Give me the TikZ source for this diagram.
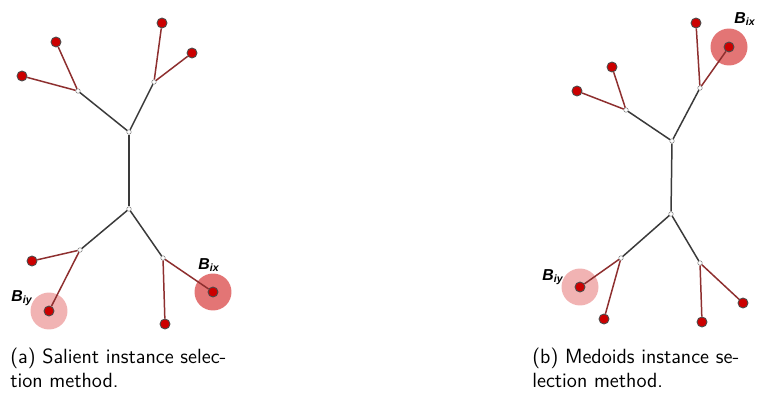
\documentclass[tikz,border=0pt]{standalone}
\usepackage{fontspec}
\newfontfamily\lblfont{Liberation Sans}
\definecolor{leafred}{HTML}{CC0000}
\definecolor{branchred}{HTML}{8E2F2F}
\definecolor{trunkgray}{HTML}{3A3A3A}
\definecolor{haloA}{HTML}{E37575}
\definecolor{haloB}{HTML}{F1B3B3}
\tikzset{
  leaf/.style={circle, draw=black!70, fill=leafred, line width=0.5pt, inner sep=0pt, minimum size=0.2cm},
  inner/.style={circle, draw=gray, fill=white, line width=0.3pt, inner sep=0pt, minimum size=0.09cm},
  trunk/.style={draw=trunkgray, line width=0.85pt},
  twig/.style={draw=branchred, line width=0.85pt},
  halo/.style={circle, fill=#1, inner sep=0pt, minimum size=0.74cm},
  blabel/.style={font=\lblfont\bfseries\itshape\small, inner sep=0pt},
  capt/.style={font=\sffamily\fontsize{11.7}{13.6}\selectfont, align=left, anchor=north west, inner sep=0pt}
}
\begin{document}
\begin{tikzpicture}[x=0.02cm, y=-0.02cm]
\useasboundingbox (0,0) rectangle (768,399);
% (a) salient instances
\node[halo=haloA] (hxa) at (213,292) {};
\node[halo=haloB] (hya) at (49,311) {};
\node[inner] (ca) at (129,132) {};
\node[inner] (da) at (129,209) {};
\node[inner] (aa) at (78,91) {};
\node[inner] (ba) at (154,82) {};
\node[inner] (ea) at (80,250) {};
\node[inner] (fa) at (163,258) {};
\draw[trunk] (ca) -- (da);
\draw[trunk] (ca) -- (aa);
\draw[trunk] (ca) -- (ba);
\draw[trunk] (da) -- (ea);
\draw[trunk] (da) -- (fa);
\foreach \n/\p/\q in {a1/aa/{22,76}, a2/aa/{56,42}, a3/ba/{162,23}, a4/ba/{192,53},
                      a5/ea/{32,261}, a6/ea/{49,311}, a7/fa/{165,324}, a8/fa/{213,292}} {
  \node[leaf] (\n) at (\q) {};
  \draw[twig] (\p) -- (\n);
}
\node[blabel] (bxa) at (209,265) {B\textsubscript{ix}};
\node[blabel] (bya) at (22,298) {B\textsubscript{iy}};
\node[capt] (capa) at (10,348) {(a) Salient instance selec-\\tion method.};
% (b) medoids
\node[halo=haloA] (hxb) at (729,47) {};
\node[halo=haloB] (hyb) at (580,287) {};
\node[inner] (cb) at (672,141) {};
\node[inner] (db) at (671,214) {};
\node[inner] (ab) at (626,110) {};
\node[inner] (bb) at (700,88) {};
\node[inner] (eb) at (621,258) {};
\node[inner] (fb) at (700,263) {};
\draw[trunk] (cb) -- (db);
\draw[trunk] (cb) -- (ab);
\draw[trunk] (cb) -- (bb);
\draw[trunk] (db) -- (eb);
\draw[trunk] (db) -- (fb);
\foreach \n/\p/\q in {b1/ab/{577,91}, b2/ab/{612,67}, b3/bb/{696,23}, b4/bb/{729,47},
                      b5/eb/{580,287}, b6/eb/{604,319}, b7/fb/{702,322}, b8/fb/{743,303}} {
  \node[leaf] (\n) at (\q) {};
  \draw[twig] (\p) -- (\n);
}
\node[blabel] (bxb) at (745,19) {B\textsubscript{ix}};
\node[blabel] (byb) at (553,277) {B\textsubscript{iy}};
\node[capt] (capb) at (532,348) {(b) Medoids instance se-\\lection method.};
\end{tikzpicture}
\end{document}
